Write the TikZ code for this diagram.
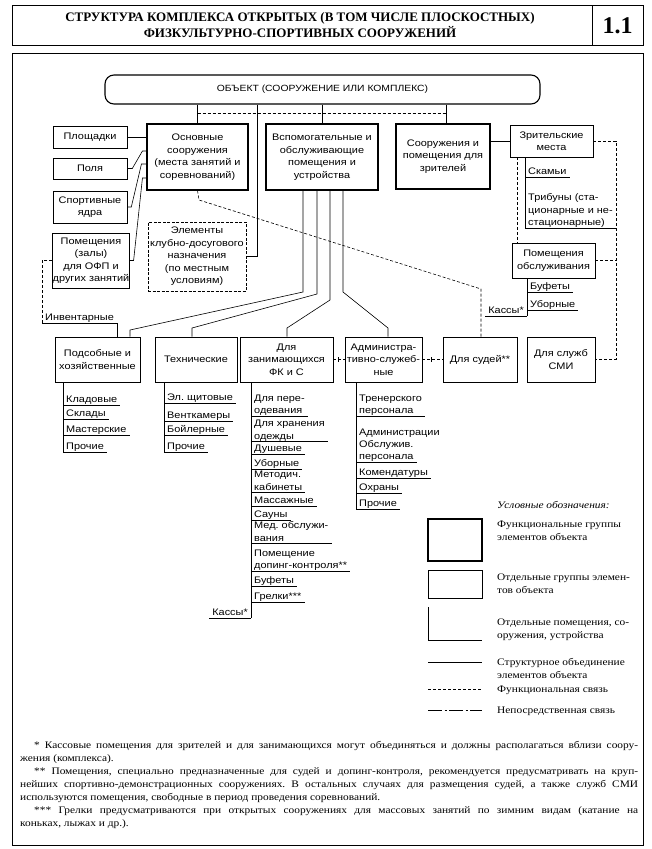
\documentclass[tikz,border=0pt]{standalone}
\usepackage{fontspec}
\setmainfont{Liberation Serif}
\newfontfamily\boxfont[FakeStretch=1.15]{Liberation Sans}
\newfontfamily\notefont[FakeStretch=1.14]{Liberation Serif}
\usetikzlibrary{calc}
\frenchspacing
\newcommand\litm[5]{%
  \node[litem] (#1) at (#2+3,#3) {#4};
  \coordinate (#1u) at (#2,#5);
  \draw[conn] (#1u) -- ($(#1u -| #1.east)+(3,0)$);}
\begin{document}
\begin{tikzpicture}[x=1pt,y=-1pt,
  every node/.style={inner sep=0pt},
  sans/.style={font=\boxfont\fontsize{9.5}{12.5}\selectfont},
  fbox/.style={draw, line width=1.1pt, sans, align=center},
  gbox/.style={draw, line width=0.6pt, sans, align=center},
  litem/.style={anchor=base west, sans, align=left},
  conn/.style={line width=0.6pt},
  func/.style={line width=0.6pt, dash pattern=on 3pt off 2pt},
  direct/.style={line width=0.6pt, dash pattern=on 14pt off 2.5pt on 2pt off 2.5pt},
  note/.style={font=\notefont\fontsize{10}{13}\selectfont, anchor=base west},
  ltext/.style={font=\notefont\fontsize{10}{13}\selectfont, anchor=base west, align=left},
]
\useasboundingbox (0,0) rectangle (652,849);

% header
\node[draw, line width=0.8pt, minimum width=580pt, minimum height=40pt] (titlebox) at (302,25) {};
\node[draw, line width=0.8pt, minimum width=51pt, minimum height=40pt] (numbox) at (617.5,25) {};
\node[font=\bfseries\fontsize{13}{16}\selectfont, align=center] (title) at (300,25)
  {СТРУКТУРА КОМПЛЕКСА ОТКРЫТЫХ (В ТОМ ЧИСЛЕ ПЛОСКОСТНЫХ)\\ФИЗКУЛЬТУРНО-СПОРТИВНЫХ СООРУЖЕНИЙ};
\node[font=\bfseries\fontsize{24}{26}\selectfont] (num) at (617.5,26) {1.1};

% frame
\node[draw, line width=0.8pt, minimum width=631pt, minimum height=792pt] (frame) at (327.5,449) {};

% boxes
\node[draw, line width=1.1pt, rounded corners=9pt, minimum width=435pt, minimum height=29pt,
      font=\boxfont\fontsize{9}{11}\selectfont] (obj) at (322.5,89.5) {ОБЪЕКТ (СООРУЖЕНИЕ ИЛИ КОМПЛЕКС)};
\node[gbox, minimum width=74pt, minimum height=22pt] (plosh) at (90,137) {Площадки};
\node[gbox, minimum width=74pt, minimum height=21pt] (polya) at (90,168.5) {Поля};
\node[gbox, minimum width=74pt, minimum height=32pt] (yadra) at (90,207) {Спортивные\\ядра};
\node[gbox, minimum width=76pt, minimum height=55pt] (pomzal) at (91,260.5) {Помещения\\(залы)\\для ОФП и\\других занятий};
\node[fbox, minimum width=101pt, minimum height=66pt] (osn) at (197.5,157) {Основные\\сооружения\\(места занятий и\\соревнований)};
\node[gbox, dash pattern=on 3pt off 1.5pt, line width=0.8pt, minimum width=98pt, minimum height=69pt] (elem) at (197,256.5)
  {Элементы\\клубно-досугового\\назначения\\(по местным\\условиям)};
\node[fbox, minimum width=112pt, minimum height=66pt] (vsp) at (322,157) {Вспомогательные и\\обслуживающие\\помещения и\\устройства};
\node[fbox, minimum width=94pt, minimum height=65pt] (soor) at (443,156.5) {Сооружения и\\помещения для\\зрителей};
\node[gbox, minimum width=83pt, minimum height=32pt] (zrit) at (551.5,141) {Зрительские\\места};
\node[gbox, minimum width=83pt, minimum height=35pt] (pomobs) at (553.5,260.5) {Помещения\\обслуживания};

\node[gbox, minimum width=85pt, minimum height=45pt] (podsob) at (97.5,359.5) {Подсобные и\\хозяйственные};
\node[gbox, minimum width=82pt, minimum height=45pt] (tech) at (196,359.5) {Технические};
\node[gbox, minimum width=93pt, minimum height=45pt] (zan) at (286.5,359.5) {Для\\занимающихся\\ФК и С};
\node[gbox, minimum width=77pt, minimum height=45pt] (adm) at (383.5,359.5) {Администра-\\тивно-служеб-\\ные};
\node[gbox, minimum width=74pt, minimum height=45pt] (sud) at (480,359.5) {Для судей**};
\node[gbox, minimum width=68pt, minimum height=45pt] (smi) at (561,359.5) {Для служб\\СМИ};

% object links
\coordinate (sl) at (446,0);
\coordinate (dl) at (0,113);
\coordinate (el) at (257,0);
\draw[conn] (obj.south -| osn.north) -- (osn.north);
\draw[conn] (obj.south -| vsp.north) -- (vsp.north);
\draw[conn] (obj.south -| sl) -- (soor.north -| sl);
\draw[func] (dl -| osn.north) -- (dl -| sl);
\draw[conn] (obj.south -| el) -- (el |- elem.east) -- (elem.east);

% left links
\draw[conn] (plosh.east) -- (plosh.east -| osn.west);
\draw[conn] (polya.east) -- ++(5,0) -- ($(osn.west)+(-4,-6)$) -- ++(4,0);
\draw[conn] (yadra.east) -- ++(4,0) -- ($(osn.west)+(-5,7)$) -- ++(5,0);
\draw[conn] (pomzal.east) -- ++(4,0) -- ($(osn.west)+(-4,21)$) -- ++(4,0);

% inventory
\coordinate (ic) at (42,323);
\coordinate (ie) at (117,323);
\draw[func] (pomzal.west) -- (pomzal.west -| ic) -- (ic);
\draw[conn] (ic) -- (ie) -- (ie |- podsob.north);
\node[litem] (inv) at (45,320.5) {Инвентарные};

% fan from vsp
\coordinate (f1) at (303,292); \coordinate (g1) at (130,330);
\coordinate (f2) at (317,294); \coordinate (g2) at (192,328);
\coordinate (f3) at (330,300); \coordinate (g3) at (287,328);
\coordinate (f4) at (343,292); \coordinate (g4) at (388,328);
\draw[conn] (f1 |- vsp.south) -- (f1) -- (g1) -- (g1 |- podsob.north);
\draw[conn] (f2 |- vsp.south) -- (f2) -- (g2) -- (g2 |- tech.north);
\draw[conn] (f3 |- vsp.south) -- (f3) -- (g3) -- (g3 |- zan.north);
\draw[conn] (f4 |- vsp.south) -- (f4) -- (g4) -- (g4 |- adm.north);

% row dashed links
\draw[func] (zan.east) -- (adm.west);
\draw[conn] ($(zan.east)+(5,-2.5)$) -- ++(0,5);
\draw[func] (adm.east) -- (sud.west);
\draw[conn] ($(adm.east)+(9,-2.5)$) -- ++(0,5);

% osn -> sud
\coordinate (d1) at (199,200); \coordinate (d2) at (481,289);
\draw[func] (osn.south) -- (d1) -- (d2) -- (d2 |- sud.north);

% right side
\coordinate (rx) at (616,0);
\coordinate (zx) at (517,0);
\draw[func] (zrit.east) -- (zrit.east -| rx) -- (smi.east -| rx) -- (smi.east);
\draw[func] (pomobs.east) -- (pomobs.east -| rx);
\draw[func] (zrit.south -| zx) -- (pomobs.north -| zx);
\draw[conn] (soor.east |- zrit.west) -- (zrit.west);

% spectator places list
\coordinate (zrx) at (525,228);
\draw[conn] (zrit.south -| zrx) -- (zrx);
\litm{sa}{525}{174.5}{Скамьи}{177}
\litm{sb}{525}{225.5}{Трибуны (ста-\\ционарные и не-\\стационарные)}{228}

% service rooms list
\coordinate (pox) at (527,316);
\draw[conn] (pomobs.south -| pox) -- (pox);
\litm{oa}{527}{289.5}{Буфеты}{292}
\litm{ob}{527}{307.5}{Уборные}{310}
\node[sans, anchor=base east] (oc) at (524,313.5) {Кассы*};
\draw[conn] ($(oc.west |- pox)+(-3,0)$) -- (pox);

% podsob list
\coordinate (pdx) at (63,452);
\draw[conn] (podsob.south -| pdx) -- (pdx);
\litm{pa}{63}{402.5}{Кладовые}{405}
\litm{pb}{63}{416.5}{Склады}{419}
\litm{pc}{63}{432.5}{Мастерские}{435}
\litm{pd}{63}{449.5}{Прочие}{452}

% tech list
\coordinate (tdx) at (164,452);
\draw[conn] (tech.south -| tdx) -- (tdx);
\litm{ta}{164}{400.5}{Эл. щитовые}{403}
\litm{tb}{164}{418.5}{Венткамеры}{421}
\litm{tc}{164}{432.5}{Бойлерные}{435}
\litm{td}{164}{449.5}{Прочие}{452}

% zan list
\coordinate (zax) at (251,618);
\draw[conn] (zan.south -| zax) -- (zax);
\litm{za}{251}{413.5}{Для пере-\\одевания}{416}
\litm{zb}{251}{439}{Для хранения\\одежды}{441.5}
\litm{zc}{251}{451.5}{Душевые}{454}
\litm{zd}{251}{466.5}{Уборные}{469}
\litm{ze}{251}{490}{Методич.\\кабинеты}{492.5}
\litm{zf}{251}{503.5}{Массажные}{506}
\litm{zg}{251}{517.5}{Сауны}{520}
\litm{zh}{251}{541}{Мед. обслужи-\\вания}{543.5}
\litm{zi}{251}{568.5}{Помещение\\допинг-контроля**}{571}
\litm{zj}{251}{583.5}{Буфеты}{586}
\litm{zk}{251}{599.5}{Грелки***}{602}
\node[sans, anchor=base east] (zl) at (248,615.5) {Кассы*};
\draw[conn] ($(zl.west |- zax)+(-3,0)$) -- (zax);

% admin list
\coordinate (adx) at (356,509);
\draw[conn] (adm.south -| adx) -- (adx);
\litm{aa}{356}{413.5}{Тренерского\\персонала}{416}
\node[litem] (ab) at (359,435.5) {Администрации};
\litm{ac}{356}{459.5}{Обслужив.\\персонала}{462}
\litm{ad}{356}{475.5}{Комендатуры}{478}
\litm{ae}{356}{490.5}{Охраны}{493}
\litm{af}{356}{506.5}{Прочие}{509}

% legend
\node[ltext, font=\notefont\itshape\fontsize{10}{13}\selectfont] (lgt) at (497,508) {Условные обозначения:};
\node[draw, line width=1.1pt, minimum width=54pt, minimum height=42pt] (lg1) at (455,540) {};
\node[draw, line width=0.6pt, minimum width=54pt, minimum height=28pt] (lg2) at (455,584) {};
\coordinate (lg3a) at (428,607); \coordinate (lg3b) at (482,640);
\draw[conn] (lg3a) -- (lg3a |- lg3b) -- (lg3b);
\coordinate (lg4a) at (428,662); \coordinate (lg4b) at (482,662);
\draw[conn] (lg4a) -- (lg4b);
\coordinate (lg5a) at (428,689); \coordinate (lg5b) at (482,689);
\draw[func] (lg5a) -- (lg5b);
\coordinate (lg6a) at (428,710); \coordinate (lg6b) at (482,710);
\draw[direct] (lg6a) -- (lg6b);
\node[ltext] (lt1) at (497,540.5) {Функциональные группы\\элементов объекта};
\node[ltext] (lt2) at (497,593.5) {Отдельные группы элемен-\\тов объекта};
\node[ltext] (lt3) at (497,638.5) {Отдельные помещения, со-\\оружения, устройства};
\node[ltext] (lt4) at (497,678.5) {Структурное объединение\\элементов объекта};
\node[ltext] (lt5) at (497,692.5) {Функциональная связь};
\node[ltext] (lt6) at (497,713.5) {Непосредственная связь};

% footnotes
\node[note] (n1) at (34,748.5) {\hbox to 604pt{* Кассовые помещения для зрителей и для занимающихся могут объединяться и должны располагаться вблизи соору-}};
\node[note] (n2) at (20,761.5) {жения (комплекса).};
\node[note] (n3) at (34,774.5) {\hbox to 604pt{** Помещения, специально предназначенные для судей и допинг-контроля, рекомендуется предусматривать на круп-}};
\node[note] (n4) at (20,787.5) {\hbox to 618pt{нейших спортивно-демонстрационных сооружениях. В остальных случаях для размещения судей, а также служб СМИ}};
\node[note] (n5) at (20,800.5) {используются помещения, свободные в период проведения соревнований.};
\node[note] (n6) at (34,813.5) {\hbox to 604pt{*** Грелки предусматриваются при открытых сооружениях для массовых занятий по зимним видам (катание на}};
\node[note] (n7) at (20,826.5) {коньках, лыжах и др.).};
\end{tikzpicture}
\end{document}
